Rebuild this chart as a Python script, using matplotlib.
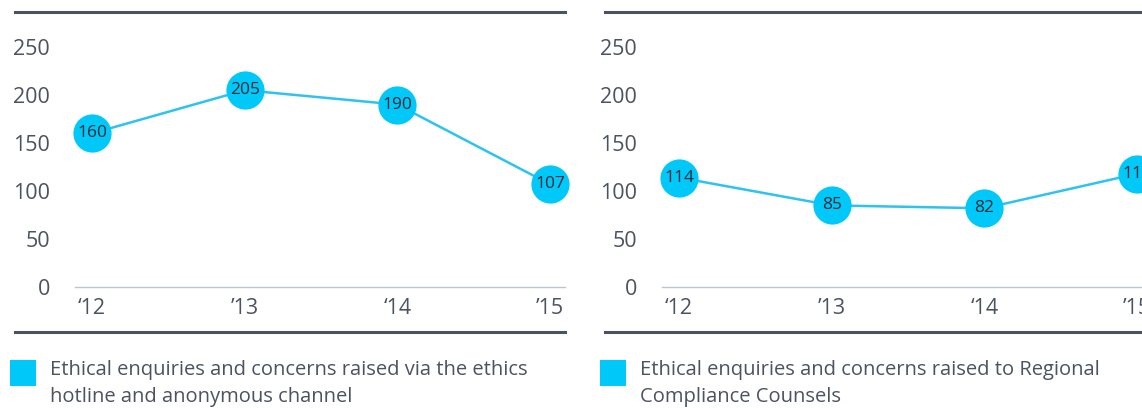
import matplotlib.pyplot as plt
from matplotlib.lines import Line2D
from matplotlib.patches import Rectangle

plt.rcParams['font.family'] = ['Open Sans', 'DejaVu Sans']

years = [12, 13, 14, 15]
year_labels = ['\u201812', '\u201913', '\u201814', '\u201915']
hotline = [160, 205, 190, 107]
regional = [114, 85, 82, 118]
y_ticks = [0, 50, 100, 150, 200, 250]

legend_left = 'Ethical enquiries and concerns raised via the ethics\nhotline and anonymous channel'
legend_right = 'Ethical enquiries and concerns raised to Regional\nCompliance Counsels'

W, H = 1142, 408
dark = '#4b5361'
cyan = '#00c8f8'
line_c = '#2ec3ef'

fig = plt.figure(figsize=(W / 100, H / 100), dpi=100)


def px(x0, y0, w, h):
    # pixel box (top-left origin) -> figure fraction
    return [x0 / W, 1 - (y0 + h) / H, w / W, h / H]


def panel(left_px, values):
    ax = fig.add_axes(px(left_px, 47, 490, 240))
    ax.plot(years, values, color=line_c, lw=1.8, zorder=2, clip_on=False)
    ax.plot(years, values, 'o', ms=27.5, color=cyan, mec='none', zorder=3, clip_on=False)
    for x, v in zip(years, values):
        ax.text(x, v, str(v), ha='center', va='center', fontsize=12.5,
                color='#1d2a38', zorder=4, clip_on=False)
    ax.set_xlim(12 - 17 / 153, 15 + 15 / 153)
    ax.set_ylim(0, 250)
    ax.set_xticks(years)
    ax.set_xticklabels(year_labels)
    ax.set_yticks(y_ticks)
    ax.tick_params(length=0, labelsize=15.5, colors=dark)
    ax.tick_params(axis='y', pad=18)
    ax.tick_params(axis='x', pad=8)
    for s in ['top', 'right', 'left']:
        ax.spines[s].set_visible(False)
    ax.spines['bottom'].set_color('#b9c5d1')
    ax.spines['bottom'].set_linewidth(1)
    ax.patch.set_visible(False)
    return ax


panel(75, hotline)
panel(662, regional)

# heavy rules above and below each chart
for x0, x1 in [(15, 565), (605, 1142)]:
    for yy in [12, 332]:
        fig.add_artist(Line2D([x0 / W, x1 / W], [1 - yy / H, 1 - yy / H],
                              color=dark, lw=2.2))

# legends
for sx, tx, txt in [(10, 50, legend_left), (600, 640, legend_right)]:
    fig.add_artist(Rectangle((sx / W, 1 - 386 / H), 26 / W, 26 / H,
                             transform=fig.transFigure, color=cyan, lw=0))
    fig.text(tx / W, 1 - 360 / H, txt, ha='left', va='top', fontsize=14.5,
             color=dark, linespacing=1.45)

fig.savefig('out.png', dpi=100)
